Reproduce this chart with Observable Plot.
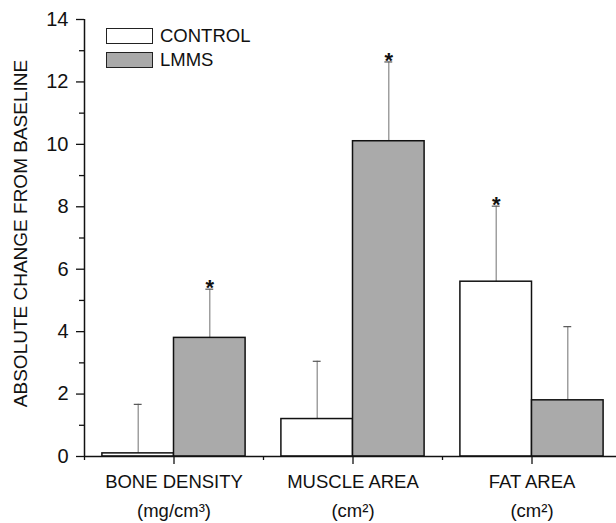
<!DOCTYPE html>
<html>
<head>
<meta charset="utf-8">
<script src="https://cdn.jsdelivr.net/npm/d3@7"></script>
<script src="https://cdn.jsdelivr.net/npm/@observablehq/plot@0.6"></script>
<style>
  html, body { margin: 0; padding: 0; background: #fff; }
  #wrap { position: relative; width: 616px; height: 523px; font-family: "Liberation Sans", Arial, sans-serif; }
  #legend { position: absolute; left: 106px; top: 24.5px; font-size: 18.5px; color: #111; }
  .item { display: flex; align-items: center; height: 23.7px; }
  .sw { width: 45px; height: 14px; border: 1.5px solid #222; margin-right: 7px; }
</style>
</head>
<body>
<div id="wrap"></div>
<script>
const categories = ["BONE DENSITY", "MUSCLE AREA", "FAT AREA"];
const units = ["(mg/cm\u00B3)", "(cm\u00B2)", "(cm\u00B2)"];
const groups = ["CONTROL", "LMMS"];
const controlMean = [0.1, 1.2, 5.6];
const controlErr = [1.57, 1.85, 2.42];
const controlSig = [false, false, true];
const lmmsMean = [3.8, 10.1, 1.8];
const lmmsErr = [1.56, 2.54, 2.36];
const lmmsSig = [true, true, false];
const yTicks = [0, 2, 4, 6, 8, 10, 12, 14];
const yMinor = [1, 3, 5, 7, 9, 11, 13];

const fills = {CONTROL: "#ffffff", LMMS: "#aaaaaa"};
const barW = 0.4;

const rows = [];
categories.forEach((c, i) => {
  rows.push({pos: i + 1, x1: i + 1 - barW, x2: i + 1, group: "CONTROL", mean: controlMean[i], err: controlErr[i], sig: controlSig[i]});
  rows.push({pos: i + 1, x1: i + 1, x2: i + 1 + barW, group: "LMMS", mean: lmmsMean[i], err: lmmsErr[i], sig: lmmsSig[i]});
});
rows.forEach(r => { r.cx = (r.x1 + r.x2) / 2; r.top = r.mean + r.err; });
const catRows = categories.map((c, i) => ({pos: i + 1, name: c, unit: units[i]}));

const font = "Liberation Sans, Arial, sans-serif";

const chart = Plot.plot({
  width: 616,
  height: 523,
  marginLeft: 84,
  marginTop: 19,
  marginBottom: 67,
  marginRight: 0,
  style: {fontFamily: font, background: "#fff", color: "#111"},
  x: {type: "linear", domain: [0.5, 3.5], range: [84, 621]},
  y: {domain: [0, 14], range: [456, 19]},
  marks: [
    Plot.ruleX(rows, {x: "cx", y1: "mean", y2: "top", stroke: "#888", strokeWidth: 1.2}),
    Plot.ruleY(rows, {y: "top", x1: d => d.cx - 0.022, x2: d => d.cx + 0.022, stroke: "#555", strokeWidth: 1.2}),
    Plot.rect(rows, {x1: "x1", x2: "x2", y1: 0, y2: "mean", fill: d => fills[d.group], stroke: "#111", strokeWidth: 1.5}),
    Plot.text(rows.filter(d => d.sig), {x: "cx", y: "top", text: () => "*", fontSize: 22, fontWeight: "bold", lineAnchor: "bottom", dy: 6, fill: "#111"}),
    Plot.axisY({ticks: yTicks, tickSize: 8, tickPadding: 8, fontSize: 20, label: null, stroke: "#111", strokeWidth: 1.3}),
    Plot.axisY({ticks: yMinor, tickSize: 5, text: null, label: null, strokeWidth: 1.3}),
    Plot.axisX({ticks: [1, 2, 3], tickSize: 8, text: null, label: null, strokeWidth: 1.3}),
    Plot.axisX({ticks: [0.5, 1.5, 2.5, 3.5], tickSize: 4, text: null, label: null, strokeWidth: 1.3}),
    Plot.ruleX([0.5], {stroke: "#111", strokeWidth: 1.5}),
    Plot.ruleY([0], {stroke: "#111", strokeWidth: 1.5}),
    Plot.text(catRows, {x: "pos", frameAnchor: "bottom", text: "name", lineAnchor: "bottom", dy: 31, fontSize: 18.5, fill: "#111"}),
    Plot.text(catRows, {x: "pos", frameAnchor: "bottom", text: "unit", lineAnchor: "bottom", dy: 60, fontSize: 18.5, fill: "#111"}),
    Plot.text(["ABSOLUTE CHANGE FROM BASELINE"], {frameAnchor: "left", text: d => d, rotate: -90, textAnchor: "middle", dx: -58, dy: -4.5, fontSize: 19, lineAnchor: "bottom", fill: "#111"})
  ]
});

const wrap = document.getElementById("wrap");
wrap.appendChild(chart);
const legend = document.createElement("div");
legend.id = "legend";
groups.forEach(g => {
  const it = document.createElement("div");
  it.className = "item";
  const sw = document.createElement("div");
  sw.className = "sw";
  sw.style.background = fills[g];
  const t = document.createElement("span");
  t.textContent = g;
  it.appendChild(sw); it.appendChild(t);
  legend.appendChild(it);
});
wrap.appendChild(legend);
</script>
</body>
</html>
